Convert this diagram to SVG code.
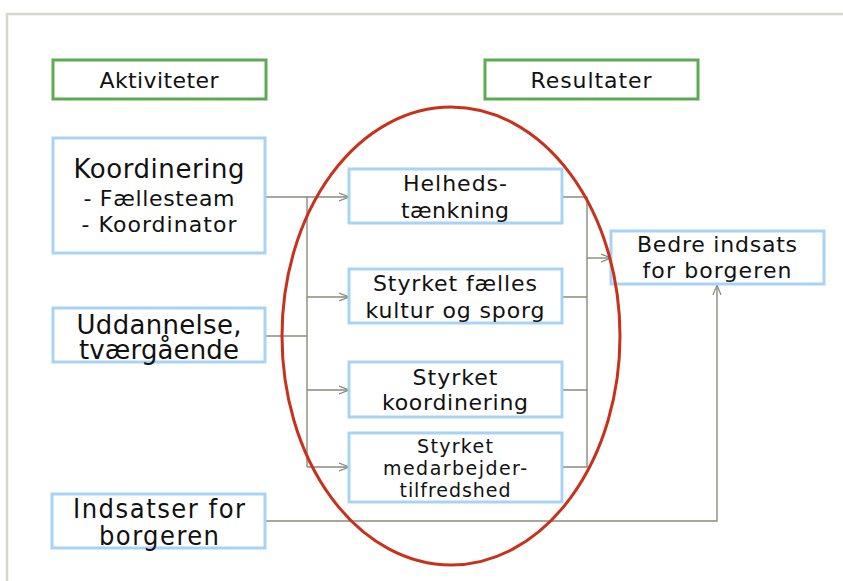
<svg xmlns="http://www.w3.org/2000/svg" width="843" height="581" viewBox="0 0 843 581">
  <style>
    .txt { font-family: "DejaVu Sans", Verdana, sans-serif; fill: #111; text-anchor: middle; }
    .cond { font-family: "DejaVu Sans Condensed", "DejaVu Sans", sans-serif; fill: #111; text-anchor: middle; }
    .head { fill: #fff; stroke: #5cab52; stroke-width: 3; }
    .box { fill: #fff; stroke: #a9d3f4; stroke-width: 3; }
    .link { fill: none; stroke: #8a8a7e; stroke-width: 1.4; }
    .frame { fill: none; stroke: #d6d6cf; stroke-width: 2.5; }
  </style>
  <defs>
    <marker id="arrow" viewBox="0 0 10 10" refX="10" refY="5" markerWidth="10" markerHeight="10" markerUnits="userSpaceOnUse" orient="auto">
      <polyline points="0,1 10,5 0,9" fill="none" stroke="#8a8a7e" stroke-width="1.2"/>
    </marker>
  </defs>

  <rect width="843" height="581" fill="#fff"/>
  <!-- slide frame -->
  <path class="frame" d="M843 14 H7 V581"/>

  <!-- column headers -->
  <g id="hdr-aktiviteter">
    <rect class="head" x="53" y="60" width="213" height="39"/>
    <text class="txt" x="159" y="88" font-size="22" textLength="119">Aktiviteter</text>
  </g>
  <g id="hdr-resultater">
    <rect class="head" x="485" y="60" width="213" height="39"/>
    <text class="txt" x="591" y="88" font-size="22" textLength="121">Resultater</text>
  </g>

  <!-- connectors -->
  <g id="connectors">
    <path class="link" d="M265 197 H307 V467"/>
    <path class="link" d="M265 336 H307"/>
    <path class="link" marker-end="url(#arrow)" d="M307 197 H349"/>
    <path class="link" marker-end="url(#arrow)" d="M307 297 H349"/>
    <path class="link" marker-end="url(#arrow)" d="M307 390 H349"/>
    <path class="link" marker-end="url(#arrow)" d="M307 467 H349"/>
    <path class="link" d="M562 197 H587 V467 H562 M562 297 H587 M562 390 H587"/>
    <path class="link" marker-end="url(#arrow)" d="M587 258 H611"/>
    <path class="link" marker-end="url(#arrow)" d="M265 521 H717 V285"/>
  </g>

  <!-- activities -->
  <g id="koordinering">
    <rect class="box" x="53" y="138" width="212" height="115"/>
    <text class="txt" x="159" y="178" font-size="26" textLength="171">Koordinering</text>
    <text class="txt" x="159" y="206" font-size="22" textLength="151">- Fællesteam</text>
    <text class="txt" x="159" y="232" font-size="22" textLength="155">- Koordinator</text>
  </g>
  <g id="uddannelse">
    <rect class="box" x="53" y="308" width="212" height="54"/>
    <text class="txt" x="159" y="334" font-size="26" textLength="165">Uddannelse,</text>
    <text class="txt" x="159" y="359" font-size="26" textLength="160">tværgående</text>
  </g>
  <g id="indsatser">
    <rect class="box" x="52" y="494" width="213" height="54"/>
    <text class="cond" x="159" y="518" font-size="27" textLength="172">Indsatser for</text>
    <text class="cond" x="159" y="545" font-size="27" textLength="120">borgeren</text>
  </g>

  <!-- results -->
  <g id="helhed">
    <rect class="box" x="349" y="169" width="213" height="54"/>
    <text class="txt" x="455" y="191" font-size="22" textLength="104">Helheds-</text>
    <text class="txt" x="455" y="218" font-size="22" textLength="108">tænkning</text>
  </g>
  <g id="kultur">
    <rect class="box" x="349" y="269" width="213" height="54"/>
    <text class="txt" x="455" y="291" font-size="22" textLength="164">Styrket fælles</text>
    <text class="txt" x="455" y="318" font-size="22" textLength="179">kultur og sporg</text>
  </g>
  <g id="styrket-koordinering">
    <rect class="box" x="349" y="362" width="213" height="55"/>
    <text class="txt" x="455" y="385" font-size="22" textLength="85">Styrket</text>
    <text class="txt" x="455" y="410" font-size="22" textLength="146">koordinering</text>
  </g>
  <g id="tilfredshed">
    <rect class="box" x="349" y="433" width="213" height="69"/>
    <text class="txt" x="455" y="453" font-size="19" textLength="76">Styrket</text>
    <text class="txt" x="455" y="475" font-size="19" textLength="144">medarbejder-</text>
    <text class="txt" x="455" y="497" font-size="19" textLength="111">tilfredshed</text>
  </g>
  <g id="bedre-indsats">
    <rect class="box" x="611" y="231" width="213" height="53"/>
    <text class="txt" x="717" y="252" font-size="22" textLength="160">Bedre indsats</text>
    <text class="txt" x="717" y="278" font-size="22" textLength="149">for borgeren</text>
  </g>

  <!-- emphasis ring around the results -->
  <ellipse id="focus-ring" cx="451" cy="336" rx="169" ry="229" fill="none" stroke="#c8321c" stroke-width="3"/>
</svg>
